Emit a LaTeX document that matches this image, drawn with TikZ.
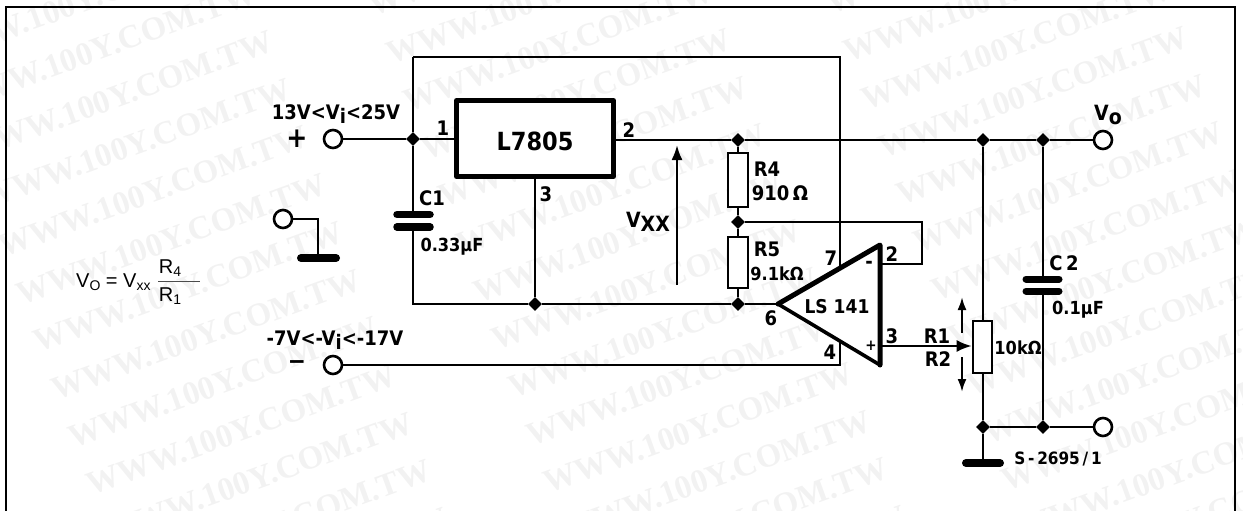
\documentclass[tikz,border=0pt]{standalone}
\usepackage{fontspec}
\setmainfont{DejaVu Sans Condensed}[BoldFont={DejaVu Sans Condensed Bold}]
\newfontfamily\wmfont{Liberation Serif}[BoldFont={Liberation Serif Bold}]
\newfontfamily\arial{Liberation Sans}
\usetikzlibrary{arrows.meta,shapes.geometric}
\definecolor{wmgray}{gray}{0.95}
\newcommand{\fsz}[1]{\fontsize{#1}{#1}\selectfont}
\newcommand{\lowsub}[1]{\raisebox{-0.35ex}{#1}}
\tikzset{
  wire/.style={line width=2.3pt,line join=miter},
  heavy/.style={line width=5pt,line join=round,line cap=round},
  plate/.style={line width=7.5pt,line cap=round},
  gndbar/.style={line width=8pt,line cap=round},
  term/.style={circle,draw,line width=2.6pt,fill=white,minimum size=18pt,inner sep=0pt},
  junc/.style={diamond,fill=black,minimum size=14pt,inner sep=0pt},
  res/.style={rectangle,draw,line width=2.6pt,fill=white,inner sep=0pt},
  lab/.style={font=\bfseries\fsz{20},inner sep=0pt},
  small/.style={font=\bfseries\fsz{17},inner sep=0pt},
  wm/.style={font=\wmfont\bfseries\fsz{33},text=wmgray,rotate=20,inner sep=0pt},
  form/.style={font=\arial\fsz{20},inner sep=0pt,anchor=base west},
  arr/.style={line width=2.3pt,-{Latex[length=15pt,width=11pt]}},
  arrs/.style={line width=2.2pt,-{Latex[length=13pt,width=9pt]}}
}
\begin{document}
\begin{tikzpicture}[x=1pt,y=-1pt]
\useasboundingbox (0,0) rectangle (1243,511);
% watermark
\begin{scope}
\clip (0,0) rectangle (1243,511);
\foreach \c in {-1,0,1,2,3}{
  \foreach \r in {-12,...,3}{
    \node[wm] (wm\c\r) at ({241+457.5*\c+17.5*\r},{430-2*\c+47.7*\r}) {WWW.100Y.COM.TW};
  }
}
\end{scope}
% frame
\coordinate (fa) at (6,511);\coordinate (fb) at (6,7);\coordinate (fc) at (1235,7);\coordinate (fd) at (1235,511);
\draw[line width=2.4pt,line join=miter] (fa) -- (fb) -- (fc) -- (fd);
% anchors
\coordinate (tlc) at (413,57);\coordinate (trc) at (840,57);
\coordinate (botl) at (413,304);
\coordinate (ap) at (778,304);\coordinate (tt) at (880,245);\coordinate (tb) at (880,365);
\coordinate (p7) at (840,268);\coordinate (p4) at (840,341);
\coordinate (p4b) at (840,365);
\coordinate (fb1) at (922,222);\coordinate (fb2) at (922,264);\coordinate (p2) at (880,264);
\coordinate (p3) at (880,346);
% terminals and junctions
\node[term] (tin) at (333,139) {};
\node[term] (tneg) at (333,365) {};
\node[term] (tgnd) at (283,219) {};
\node[term] (tout) at (1103,140) {};
\node[term] (tret) at (1103,427) {};
\node[junc] (j1) at (413,139) {};
\node[junc] (j3) at (535,304) {};
\node[junc] (j4) at (738,140) {};
\node[junc] (j5) at (738,222) {};
\node[junc] (j6) at (738,304) {};
\node[junc] (j7) at (983,140) {};
\node[junc] (j8) at (1043,140) {};
\node[junc] (j9) at (983,427) {};
\node[junc] (j10) at (1043,427) {};
\coordinate (gc1) at (318,219);\coordinate (gc2) at (318,258);
\coordinate (g1l) at (301,258);\coordinate (g1r) at (336,258);
\coordinate (g2c) at (983,463);\coordinate (g2l) at (966,463);\coordinate (g2r) at (1000,463);
% wires
\draw[wire] (tlc) -- (trc) -- (p7);
\draw[wire] (j1) -- (tlc);
\draw[wire] (tin) -- (j1);
\draw[wire] (j1) -- (botl) -- (j3) -- (j6) -- (ap);
\draw[wire] (j4) -- (j7) -- (j8) -- (tout);
\draw[wire] (j5) -- (fb1) -- (fb2) -- (p2);
\draw[wire] (tneg) -- (p4b) -- (p4);
\draw[wire] (j4) -- (j5) -- (j6);
\draw[wire] (j7) -- (j9);
\draw[wire] (j8) -- (j10);
\draw[wire] (j9) -- (j10) -- (tret);
\draw[wire] (j9) -- (g2c);
\draw[wire] (tgnd) -- (gc1) -- (gc2);
\draw[gndbar] (g1l) -- (g1r);
\draw[gndbar] (g2l) -- (g2r);
% regulator
\node[draw,line width=5pt,line join=round,fill=white,minimum width=157pt,minimum height=76pt,inner sep=0pt] (reg) at (535,138.5) {};
\node[font=\bfseries\fsz{25},inner sep=0pt] (regl) at (535,141) {L7805};
\draw[wire] (j1) -- (reg.west |- j1);
\draw[wire] (reg.east |- j4) -- (j4);
\draw[wire] (reg.south) -- (j3);
% C1, C2
\coordinate (c1a) at (397,214.5);\coordinate (c1b) at (430,214.5);\coordinate (c1c) at (397,227);\coordinate (c1d) at (430,227);
\fill[white] (392,217) rectangle (435,224);
\draw[plate] (c1a) -- (c1b);\draw[plate] (c1c) -- (c1d);
\coordinate (c2a) at (1026,279);\coordinate (c2b) at (1059,279);\coordinate (c2c) at (1026,291);\coordinate (c2d) at (1059,291);
\fill[white] (1021,282) rectangle (1064,288);
\draw[plate,line width=7pt] (c2a) -- (c2b);\draw[plate,line width=7pt] (c2c) -- (c2d);
% resistors
\node[res,minimum width=20pt,minimum height=54pt] (r4) at (738,180) {};
\node[res,minimum width=20pt,minimum height=51pt] (r5) at (738,262.5) {};
\node[res,minimum width=19pt,minimum height=52pt] (pot) at (982.5,347) {};
% op amp
\fill[white] (ap) -- (tt) -- (tb) -- cycle;
\draw[heavy] (ap) -- (tt) -- (tb);
\draw[line width=3.6pt,line cap=round] (ap) -- (tb);
\draw[line width=2.3pt,-{Latex[length=15pt,width=12pt]}] (p3) -- (pot.west |- p3);
% arrows
\coordinate (vxa) at (677,285);\coordinate (vxb) at (677,145);
\draw[arr] (vxa) -- (vxb);
\coordinate (ua) at (962,333);\coordinate (ub) at (962,297);
\draw[arrs] (ua) -- (ub);
\coordinate (da) at (962,357);\coordinate (db) at (962,392);
\draw[arrs] (da) -- (db);
% labels
\node[lab] (t1) at (336,114) {13V<V\lowsub{i}<25V};
\node[lab,font=\bfseries\fsz{28}] (tp) at (297,139) {+};
\node[lab] (t2) at (335,340) {-7V<-V\lowsub{i}<-17V};
\node[lab,font=\bfseries\fsz{24}] (tm) at (297,365) {−};
\node[lab] (n1) at (443,128) {1};
\node[lab] (n2) at (629,130) {2};
\node[lab] (n3) at (546,194) {3};
\node[lab] (c1l) at (432,198) {C1};
\node[lab,font=\bfseries\fsz{18}] (c1v) at (452,247) {0.33µF};
\node[lab,font=\bfseries\fsz{21}] (vxx) at (648,222) {V\lowsub{XX}};
\node[lab] (r4l) at (767,169) {R4};
\node[lab] (r4v) at (780,193) {910\,Ω};
\node[lab] (r5l) at (767,249) {R5};
\node[lab,font=\bfseries\fsz{18}] (r5v) at (777,274) {9.1kΩ};
\node[lab] (n7) at (831,258) {7};
\node[lab] (n22) at (892,254) {2};
\node[lab] (minus) at (869,265) {-};
\node[lab,font=\bfseries\fsz{19}] (ls) at (837,307) {LS 141};
\node[lab] (n6) at (771,318) {6};
\node[lab] (n4) at (830,352) {4};
\node[lab,font=\bfseries\fsz{15}] (plus) at (871,346) {+};
\node[lab] (n33) at (892,336) {3};
\node[lab] (r1l) at (937,336) {R1};
\node[lab] (r2l) at (938,359) {R2};
\node[lab,font=\bfseries\fsz{18}] (potv) at (1018,348) {10kΩ};
\node[lab] (c2l) at (1064,263) {C\,2};
\node[lab,font=\bfseries\fsz{18}] (c2v) at (1078,310) {0.1µF};
\node[lab,font=\bfseries\fsz{21}] (vo) at (1108,115) {V\lowsub{o}};
\node[small] (sn) at (1058,459) {S\,-\,2695\,/\,1};
% formula
\node[form] (f1) at (76,287) {V\lowsub{\fsz{14}O} = V\lowsub{\fsz{14}xx}};
\node[inner sep=0pt,font=\arial\fsz{20}] (f2) at (170,268) {R\lowsub{\fsz{14}4}};
\node[inner sep=0pt,font=\arial\fsz{20}] (f3) at (170,296) {R\lowsub{\fsz{14}1}};
\coordinate (fla) at (158,281);\coordinate (flb) at (200,281);
\draw[line width=0.7pt,black!70] (fla) -- (flb);
\end{tikzpicture}
\end{document}
